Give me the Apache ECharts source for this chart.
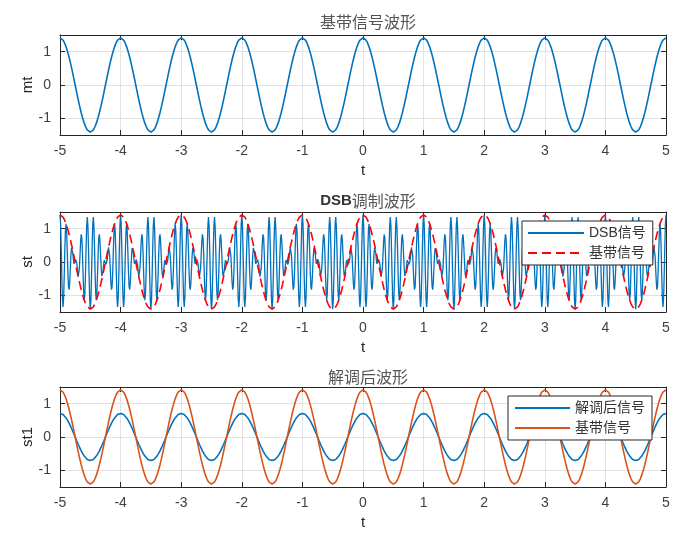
<!DOCTYPE html>
<html>
<head>
<meta charset="utf-8">
<script src="https://cdn.jsdelivr.net/npm/echarts@6/dist/echarts.min.js"></script>
<style>
html,body{margin:0;padding:0;background:#fff;}
#c{width:693px;height:543px;}
</style>
</head>
<body>
<div id="c"></div>
<script>
// ---- data (one period of each periodic signal) ----
const tStart = -5, tEnd = 5;
const mtPeriod = [1.4142, 1.3968, 1.3450, 1.2601, 1.1441, 1.0000, 0.8313, 0.6420, 0.4370, 0.2212,
  0, -0.2212, -0.4370, -0.6420, -0.8313, -1.0000, -1.1441, -1.2601, -1.3450, -1.3968,
  -1.4142, -1.3968, -1.3450, -1.2601, -1.1441, -1.0000, -0.8313, -0.6420, -0.4370, -0.2212,
  0, 0.2212, 0.4370, 0.6420, 0.8313, 1.0000, 1.1441, 1.2601, 1.3450, 1.3968];
const demodPeriod = [0.7071, 0.6984, 0.6725, 0.6300, 0.5721, 0.5000, 0.4157, 0.3210, 0.2185, 0.1106,
  0, -0.1106, -0.2185, -0.3210, -0.4157, -0.5000, -0.5721, -0.6300, -0.6725, -0.6984,
  -0.7071, -0.6984, -0.6725, -0.6300, -0.5721, -0.5000, -0.4157, -0.3210, -0.2185, -0.1106,
  0, 0.1106, 0.2185, 0.3210, 0.4157, 0.5000, 0.5721, 0.6300, 0.6725, 0.6984];
const dsbPeriod = [1.4142, 1.1419, 0.4336, -0.4293, -1.1082, -1.3450, -1.0638, -0.3954, 0.3830, 0.9661,
  1.1441, 0.8816, 0.3186, -0.2992, -0.7293, -0.8313, -0.6131, -0.2105, 0.1861, 0.4212,
  0.4370, 0.2845, 0.0819, -0.0548, -0.0718, 0, 0.0718, 0.0548, -0.0819, -0.2845,
  -0.4370, -0.4212, -0.1861, 0.2105, 0.6131, 0.8313, 0.7293, 0.2992, -0.3186, -0.8816,
  -1.1441, -0.9661, -0.3830, 0.3954, 1.0638, 1.3450, 1.1082, 0.4293, -0.4336, -1.1419,
  -1.4142, -1.1419, -0.4336, 0.4293, 1.1082, 1.3450, 1.0638, 0.3954, -0.3830, -0.9661,
  -1.1441, -0.8816, -0.3186, 0.2992, 0.7293, 0.8313, 0.6131, 0.2105, -0.1861, -0.4212,
  -0.4370, -0.2845, -0.0819, 0.0548, 0.0718, 0, -0.0718, -0.0548, 0.0819, 0.2845,
  0.4370, 0.4212, 0.1861, -0.2105, -0.6131, -0.8313, -0.7293, -0.2992, 0.3186, 0.8816,
  1.1441, 0.9661, 0.3830, -0.3954, -1.0638, -1.3450, -1.1082, -0.4293, 0.4336, 1.1419];
const yRange = [-1.5, 1.5];
const titles = ['基带信号波形', 'DSB调制波形', '解调后波形'];
const yNames = ['mt', 'st', 'st1'];
const xName = 't';
const legendNames = { dsb: 'DSB信号', base: '基带信号', demod: '解调后信号', base2: '基带信号' };

// tile one period across [tStart, tEnd]
function tile(period) {
  const n = period.length, total = (tEnd - tStart) * n;
  const out = [];
  for (let i = 0; i <= total; i++) out.push([tStart + i / n, period[i % n]]);
  return out;
}
const mtData = tile(mtPeriod);
const demodData = tile(demodPeriod);
const dsbData = tile(dsbPeriod);

const FONT = "'Liberation Sans', Arial, 'Noto Sans CJK SC', sans-serif";
const CJK = "'Noto Sans CJK SC', sans-serif";
const AX = '#262626';
const GRIDC = '#e2e2e2';
const grids = [
  { left: 60, right: 27, top: 35, height: 100 },
  { left: 60, right: 27, top: 212, height: 100 },
  { left: 60, right: 27, top: 387, height: 100 }
];
const xAxes = [], yAxes = [];
grids.forEach((g, i) => {
  xAxes.push({
    type: 'value', gridIndex: i, min: tStart, max: tEnd, interval: 1, position: 'bottom',
    axisLine: { show: true, onZero: false, lineStyle: { color: AX, width: 1 } },
    axisTick: { show: true, inside: true, length: 5, lineStyle: { color: AX } },
    axisLabel: { fontSize: 14, color: '#404040', margin: 9, fontFamily: FONT },
    splitLine: { show: true, lineStyle: { color: GRIDC, width: 1 } },
    name: xName, nameLocation: 'middle', nameGap: 28, nameMoveOverlap: false,
    nameTextStyle: { fontSize: 15, color: AX, fontFamily: FONT }
  });
  xAxes.push({
    type: 'value', gridIndex: i, min: tStart, max: tEnd, interval: 1, position: 'top',
    axisLine: { show: true, onZero: false, lineStyle: { color: AX, width: 1 } },
    axisTick: { show: true, inside: true, length: 5, lineStyle: { color: AX } },
    axisLabel: { show: false }, splitLine: { show: false }
  });
  yAxes.push({
    type: 'value', gridIndex: i, min: yRange[0], max: yRange[1], splitNumber: 3, position: 'left',
    axisLine: { show: true, onZero: false, lineStyle: { color: AX, width: 1 } },
    axisTick: { show: true, inside: true, length: 5, lineStyle: { color: AX } },
    axisLabel: { fontSize: 14, color: '#404040', margin: 9, fontFamily: FONT,
      showMinLabel: false, showMaxLabel: false,
      formatter: v => (Math.abs(v - Math.round(v)) < 1e-9 ? String(Math.round(v)) : '') },
    splitLine: { show: true, lineStyle: { color: GRIDC, width: 1 } },
    name: yNames[i], nameLocation: 'middle', nameGap: 25, nameMoveOverlap: false,
    nameTextStyle: { fontSize: 15, color: AX, fontFamily: FONT }
  });
  yAxes.push({
    type: 'value', gridIndex: i, min: yRange[0], max: yRange[1], splitNumber: 3, position: 'right',
    axisLine: { show: true, onZero: false, lineStyle: { color: AX, width: 1 } },
    axisTick: { show: true, inside: true, length: 5, lineStyle: { color: AX } },
    axisLabel: { show: false }, splitLine: { show: false }
  });
});

const legendCommon = {
  orient: 'vertical', backgroundColor: '#fff', borderColor: AX, borderWidth: 1, borderRadius: 0,
  itemHeight: 14, itemGap: 6, itemStyle: { opacity: 0 },
  formatter: n => legendNames[n],
  textStyle: { fontSize: 14, color: '#333', fontFamily: FONT }
};

const chart = echarts.init(document.getElementById('c'), null, { renderer: 'canvas' });
chart.setOption({
  animation: false,
  backgroundColor: '#fff',
  textStyle: { fontFamily: FONT },
  title: [
    { text: titles[0], left: 363, top: 9, textAlign: 'center',
      textStyle: { fontSize: 16, fontWeight: 'normal', color: '#555', fontFamily: CJK } },
    { text: '{a|' + titles[1].slice(0, 3) + '}{b|' + titles[1].slice(3) + '}', left: 363, top: 188, textAlign: 'center',
      textStyle: { fontWeight: 'normal', rich: {
        a: { fontSize: 15, fontWeight: 'bold', color: '#333', fontFamily: FONT },
        b: { fontSize: 16, fontWeight: 'normal', color: '#555', fontFamily: CJK } } } },
    { text: titles[2], left: 363, top: 364, textAlign: 'center',
      textStyle: { fontSize: 16, fontWeight: 'normal', color: '#555', fontFamily: CJK } }
  ],
  grid: grids,
  xAxis: xAxes,
  yAxis: yAxes,
  legend: [
    Object.assign({}, legendCommon, { data: ['dsb', 'base'], left: 522, top: 221,
      padding: [5, 7, 5, 5], itemWidth: 56 }),
    Object.assign({}, legendCommon, { data: ['demod', 'base2'], left: 508, top: 396,
      padding: [5, 7, 5, 6], itemWidth: 55 })
  ],
  series: [
    { name: 'mt', type: 'line', xAxisIndex: 0, yAxisIndex: 0, data: mtData, symbol: 'none',
      lineStyle: { color: '#0072BD', width: 1.6 }, itemStyle: { color: '#0072BD' } },
    { name: 'dsb', type: 'line', xAxisIndex: 2, yAxisIndex: 2, data: dsbData, symbol: 'none',
      lineStyle: { color: '#0072BD', width: 1.3 }, itemStyle: { color: '#0072BD' } },
    { name: 'base', type: 'line', xAxisIndex: 2, yAxisIndex: 2, data: mtData, symbol: 'none',
      lineStyle: { color: '#FF0000', width: 1.6, type: [9, 5] }, itemStyle: { color: '#FF0000' } },
    { name: 'demod', type: 'line', xAxisIndex: 4, yAxisIndex: 4, data: demodData, symbol: 'none',
      lineStyle: { color: '#0072BD', width: 1.6 }, itemStyle: { color: '#0072BD' } },
    { name: 'base2', type: 'line', xAxisIndex: 4, yAxisIndex: 4, data: mtData, symbol: 'none',
      lineStyle: { color: '#D95319', width: 1.6 }, itemStyle: { color: '#D95319' } }
  ]
});
</script>
</body>
</html>
